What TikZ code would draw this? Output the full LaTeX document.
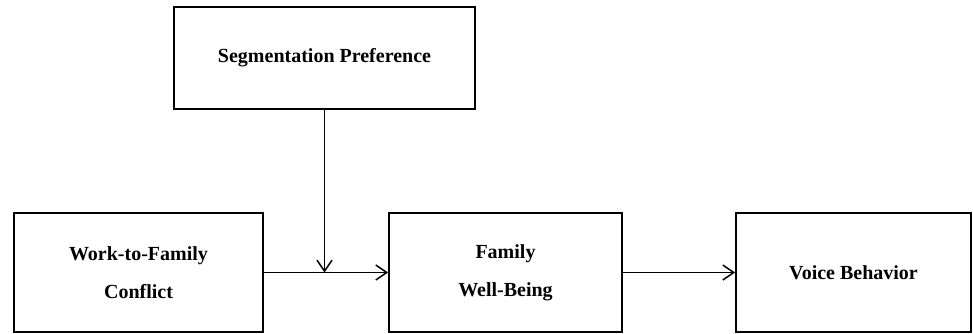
\documentclass[tikz,border=0pt]{standalone}
\usepackage{fontspec}
\setmainfont{Liberation Serif}
\usetikzlibrary{arrows.meta}
\begin{document}
\begin{tikzpicture}[x=1pt,y=-1pt,
  box/.style={draw,line width=1.8pt,inner sep=0pt,align=center,
    font=\fontsize{20}{38}\selectfont\bfseries},
  link/.style={line width=1.8pt,-{Straight Barb[length=11pt,width=15pt,line width=1.5pt]}}]
\useasboundingbox (0,0) rectangle (973,334);
\node[box,minimum width=301,minimum height=102] (seg) at (324.5,58) {Segmentation Preference};
\node[box,minimum width=249,minimum height=119] (wfc) at (138.5,272.5) {Work-to-Family\\Conflict};
\node[box,minimum width=233,minimum height=119] (fwb) at (505.5,272.5) {Family\\Well-Being};
\node[box,minimum width=235,minimum height=119] (vb) at (853.5,272.5) {Voice Behavior};
\coordinate (mid) at (seg.south |- wfc.east);
\draw[link] (wfc) -- (fwb);
\draw[link] (seg) -- (mid);
\draw[link] (fwb) -- (vb);
\end{tikzpicture}
\end{document}
